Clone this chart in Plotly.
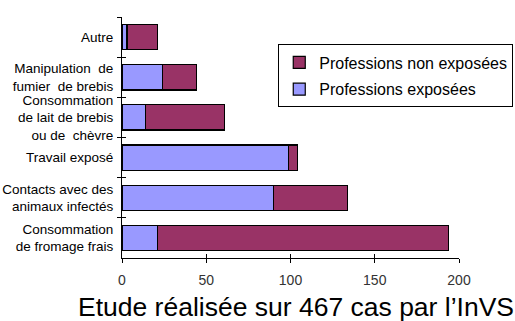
import plotly.graph_objects as go

# Exposure sources, listed top to bottom
categories = [
    "Autre",
    "Manipulation  de<br>fumier  de brebis",
    "Consommation<br>de lait de brebis<br>ou de  chèvre",
    "Travail exposé",
    "Contacts avec des<br>animaux infectés",
    "Consommation<br>de fromage frais",
]
exposed = [3, 24, 14, 99, 90, 21]
non_exposed = [18, 20, 47, 5, 44, 173]
x_ticks = [0, 50, 100, 150, 200]

BLUE = "#9999FF"
MAROON = "#993366"
FONT = "Arial, Liberation Sans, sans-serif"

fig = go.Figure()
fig.add_trace(go.Bar(
    y=categories, x=exposed, orientation="h", name="Professions exposées",
    legendgroup="exp", legendrank=2,
    marker=dict(color=BLUE, line=dict(color="black", width=1.2)), width=0.63,
))
fig.add_trace(go.Bar(
    y=categories, x=non_exposed, orientation="h", name="Professions non exposées",
    legendgroup="nonexp", legendrank=1,
    marker=dict(color=MAROON, line=dict(color="black", width=1.2)), width=0.63,
))
# empty trace carrying the overlay axes that draw the inner half of each tick
fig.add_trace(go.Scatter(
    y=categories, x=[0] * len(categories), xaxis="x2", yaxis="y2",
    mode="markers", marker=dict(opacity=0), showlegend=False, hoverinfo="skip",
))

fig.update_layout(
    width=515, height=321,
    margin=dict(l=122, r=56, t=17, b=63, autoexpand=False),
    paper_bgcolor="white", plot_bgcolor="white",
    barmode="stack", bargap=0.37,
    font=dict(family=FONT, color="black"),
    showlegend=True,
    legend=dict(
        x=1.161, y=0.886, xanchor="right", yanchor="top",
        traceorder="grouped", bordercolor="black", borderwidth=1,
        bgcolor="white", font=dict(size=16, family=FONT),
        itemwidth=30, tracegroupgap=3,
    ),
    xaxis=dict(
        range=[0, 200], tickvals=x_ticks, ticktext=[str(v) for v in x_ticks],
        showgrid=False, zeroline=False, showline=True, linecolor="black",
        linewidth=1, ticks="outside", ticklen=4, tickcolor="black",
        tickfont=dict(size=14, color="#333333"), ticklabelstandoff=5,
        automargin=False,
    ),
    yaxis=dict(
        type="category", categoryorder="array", categoryarray=categories,
        range=[5.5, -0.5], showgrid=False, zeroline=False, showline=True,
        linecolor="black", linewidth=1, ticks="outside", ticklen=4,
        tickcolor="black", tickson="boundaries",
        tickfont=dict(size=13.5, color="black"), ticklabelstandoff=5,
        automargin=False,
    ),
    xaxis2=dict(
        overlaying="x", anchor="y", side="bottom", range=[0, 200],
        tickvals=x_ticks, showticklabels=False, showgrid=False,
        zeroline=False, showline=False, ticks="inside", ticklen=4,
        tickcolor="black", automargin=False,
    ),
    yaxis2=dict(
        overlaying="y", anchor="x", side="left", type="category",
        categoryorder="array", categoryarray=categories, range=[5.5, -0.5],
        showticklabels=False, showgrid=False, zeroline=False, showline=False,
        ticks="inside", ticklen=4, tickcolor="black", tickson="boundaries",
        automargin=False,
    ),
    annotations=[dict(
        text="Etude réalisée sur 467 cas par l’InVS",
        xref="paper", yref="paper", x=0.516, y=-0.205,
        xanchor="center", yanchor="middle", showarrow=False,
        font=dict(size=26.5, family=FONT, color="black"),
    )],
)

fig.write_html("out.html")
